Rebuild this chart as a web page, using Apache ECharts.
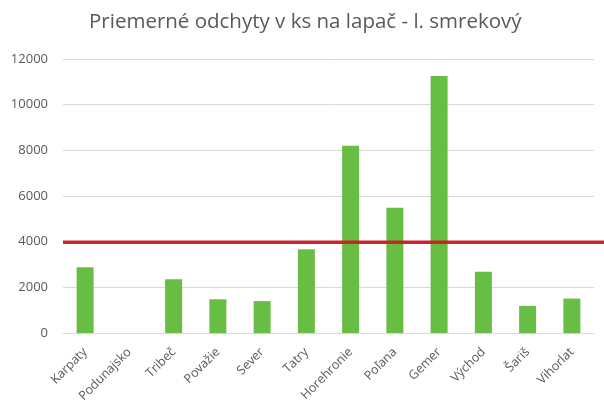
<!DOCTYPE html>
<html>
<head>
<meta charset="utf-8">
<script src="https://cdn.jsdelivr.net/npm/echarts@6/dist/echarts.min.js"></script>
<style>
  html, body { margin: 0; padding: 0; background: #fff; }
  #chart { width: 604px; height: 405px; }
</style>
</head>
<body>
<div id="chart"></div>
<script>
const categories = ['Karpaty', 'Podunajsko', 'Tribeč', 'Považie', 'Sever', 'Tatry',
  'Horehronie', 'Poľana', 'Gemer', 'Východ', 'Šariš', 'Vihorlat']
const catches = [2880, 0, 2360, 1480, 1400, 3670, 8200, 5490, 11260, 2690, 1190, 1510]
const threshold = 4000
const yTicks = { min: 0, max: 12000, interval: 2000 }

const font = '"Open Sans", "Noto Sans", sans-serif'
const grey = '#595959'

let myChart = echarts.init(document.getElementById('chart'))

let option = {
  animation: false,
  title: {
    text: 'Priemerné odchyty v ks na lapač - l. smrekový',
    left: 84,
    top: 7,
    textStyle: { fontFamily: font, fontSize: 20.5, fontWeight: 'normal', color: grey }
  },
  grid: [
    { left: 63, right: 10, top: 59, bottom: 71 },
    { left: 63, right: 0, top: 59, bottom: 71 }
  ],
  xAxis: [
    {
      type: 'category',
      data: categories,
      gridIndex: 0,
      axisLine: { lineStyle: { color: '#d9d9d9' } },
      axisTick: { show: false },
      axisLabel: {
        rotate: 45, interval: 0, color: grey, fontFamily: font, fontSize: 12.5, margin: 17
      }
    },
    {
      type: 'category',
      data: ['a', 'b'],
      gridIndex: 1,
      boundaryGap: false,
      show: false
    }
  ],
  yAxis: [
    {
      type: 'value',
      gridIndex: 0,
      min: yTicks.min, max: yTicks.max, interval: yTicks.interval,
      axisLine: { show: false },
      axisTick: { show: false },
      axisLabel: {
        color: grey, fontFamily: font, fontSize: 13, margin: 15,
        formatter: v => String(v)
      },
      splitLine: { lineStyle: { color: '#d9d9d9' } }
    },
    {
      type: 'value',
      gridIndex: 1,
      min: yTicks.min, max: yTicks.max,
      show: false
    }
  ],
  series: [
    {
      type: 'bar',
      data: catches,
      xAxisIndex: 0, yAxisIndex: 0,
      barWidth: 17,
      itemStyle: { color: '#68bd45' }
    },
    {
      type: 'line',
      data: [threshold, threshold],
      xAxisIndex: 1, yAxisIndex: 1,
      symbol: 'none',
      lineStyle: { color: '#c8252b', width: 3.5 },
      z: 5
    }
  ]
}

option && myChart.setOption(option)
</script>
</body>
</html>
